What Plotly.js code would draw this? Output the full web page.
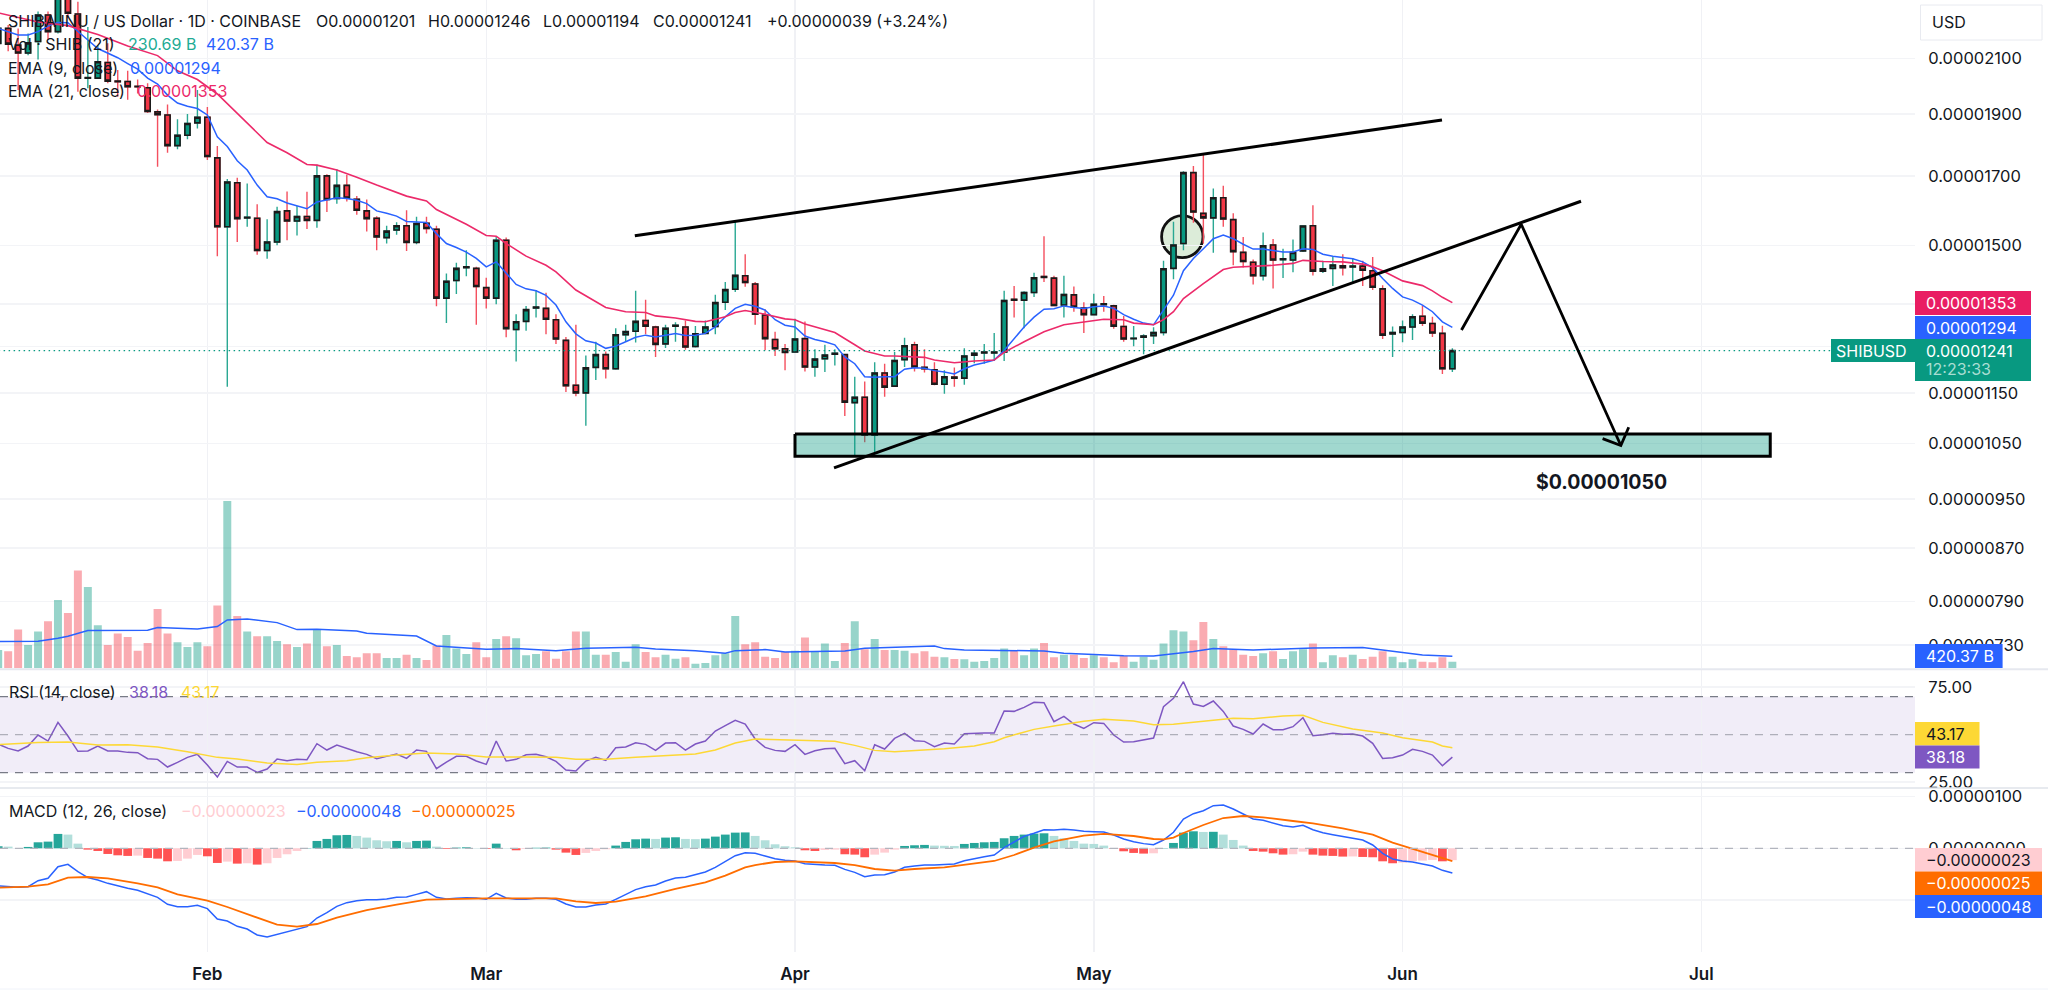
<!DOCTYPE html>
<html>
<head>
<meta charset="utf-8">
<script src="https://cdn.plot.ly/plotly-3.0.1.min.js"></script>
<style>html,body{margin:0;padding:0;background:#fff}#chart{width:2048px;height:991px}</style>
</head>
<body>
<div id="chart"></div>
<script>
// ---------- DATA (prices in units of 0.00000001 USD, volume in billions) ----------
const UNIT = 1e-8;
const firstDay = Date.UTC(2025, 0, 11);

const opens = [
 2158,2217,2151,2121,2165,2271,2204,2360,2275,2027,2027,2085,2016,2015,1997,1992,1908,1897,1795,1829,1870,
 1889,1756,1551,1679,1576,1575,1486,1509,1596,1567,1580,1569,1700,1632,1671,1630,1596,1575,1521,1542,1554,1508,1561,1544,1364,1408,1441,1439,
 1390,1364,1514,1289,1308,1340,1339,1312,1264,1166,1150,1204,1232,1201,1277,1285,1310,1295,1256,1297,1295,1250,1280,1296,1354,1386,1420,1399,1323,1266,1245,
 1238,1268,1205,1223,1233,1232,1130,1141,1066,1192,1164,1221,1254,1204,1199,1168,1183,1181,1231,1236,1236,1238,1361,1359,1378,1418,1414,1347,1372,1340,
 1324,1350,1345,1296,1268,1271,1275,1282,1439,1505,1710,1589,1576,1634,1571,1481,1455,1420,1501,1462,1461,1485,1554,1432,1439,1446,1443,1445,1433,1387,1279,
 1282,1295,1320,1303,1280,1201];
const highs = [
 2228,2231,2217,2197,2285,2285,2420,2400,2326,2223,2151,2158,2057,2054,2022,2008,1916,1933,1882,1900,1984,
 1924,1794,1690,1694,1677,1615,1572,1608,1653,1610,1652,1734,1705,1720,1703,1639,1629,1581,1554,1564,1598,1579,1579,1554,1426,1454,1487,1443,
 1415,1523,1521,1325,1345,1384,1377,1325,1272,1300,1230,1261,1239,1292,1300,1382,1360,1298,1300,1306,1310,1297,1310,1372,1404,1567,1476,1404,1337,1284,1256,
 1314,1308,1244,1254,1244,1233,1184,1174,1215,1212,1238,1270,1261,1244,1215,1198,1204,1246,1241,1256,1281,1382,1394,1381,1428,1525,1420,1420,1393,1354,
 1375,1369,1348,1321,1297,1278,1294,1459,1565,1714,1730,1765,1662,1670,1589,1523,1462,1535,1517,1491,1516,1553,1612,1459,1469,1476,1466,1459,1469,1396,1296,
 1310,1325,1346,1319,1298,1246];
const lows = [
 2150,2128,1984,2112,2096,2171,2197,2258,1978,1990,2024,2008,1960,1950,1972,1904,1728,1772,1783,1816,1851,
 1749,1471,1163,1509,1551,1475,1464,1500,1514,1527,1545,1548,1593,1617,1623,1585,1538,1487,1505,1529,1485,1503,1532,1344,1304,1374,1419,1300,
 1339,1349,1271,1217,1286,1317,1278,1256,1152,1143,1084,1177,1180,1199,1262,1259,1278,1227,1247,1261,1243,1248,1278,1278,1335,1379,1392,1300,1242,1229,1198,
 1236,1195,1184,1194,1208,1103,1027,1052,1031,1142,1163,1205,1195,1193,1166,1148,1163,1167,1213,1212,1218,1218,1317,1292,1367,1404,1344,1317,1331,1281,
 1323,1331,1291,1261,1251,1233,1256,1275,1411,1487,1562,1505,1480,1551,1447,1441,1398,1408,1388,1414,1429,1482,1421,1427,1394,1421,1404,1394,1384,1267,1227,
 1260,1265,1297,1272,1190,1194];
const closes = [
 2217,2155,2121,2160,2271,2204,2360,2278,2027,2029,2088,2016,2014,1996,1996,1909,1898,1795,1829,1868,1889,
 1760,1551,1681,1574,1578,1486,1509,1594,1567,1580,1569,1700,1629,1671,1633,1598,1574,1523,1539,1554,1508,1560,1546,1364,1406,1439,1443,1393,
 1364,1514,1291,1307,1336,1342,1313,1267,1165,1150,1203,1232,1201,1277,1284,1308,1297,1255,1292,1299,1249,1279,1295,1353,1385,1421,1403,1325,1268,1245,1237,
 1267,1205,1222,1231,1235,1131,1141,1066,1192,1162,1219,1252,1205,1201,1168,1184,1181,1229,1235,1238,1238,1358,1359,1378,1415,1416,1346,1373,1342,1324,
 1349,1348,1297,1267,1269,1274,1282,1438,1501,1710,1593,1576,1634,1573,1483,1457,1420,1499,1461,1464,1481,1553,1432,1438,1448,1441,1445,1434,1391,1276,1282,
 1295,1319,1304,1281,1201,1241];
const volumes = [
 642,595,1354,817,1284,1645,2392,1937,3419,2847,1505,817,1214,1097,618,887,2077,1214,910,747,910,
 770,2194,5858,1832,1284,1120,1120,957,840,747,864,1354,770,817,432,385,525,525,362,362,478,362,292,794,1167,689,502,910,
 385,1027,1120,1050,455,502,595,338,595,1284,1284,478,478,572,233,840,572,385,478,338,385,163,187,455,525,1832,840,910,408,362,572,
 618,1074,595,864,257,887,1645,665,1027,642,642,618,525,595,408,385,327,315,233,257,362,689,642,455,689,887,385,478,478,362,
 455,385,210,432,233,408,303,864,1330,1284,980,1622,1027,770,665,478,432,525,595,327,595,665,864,210,455,385,478,327,408,595,408,
 210,315,233,210,385,231];
const ema9 = [
 2217,2204,2191,2191,2204,2226,2241,2240,2204,2171,2138,2120,2103,2081,2060,2027,2005,1966,1938,1927,1919,
 1897,1824,1792,1747,1718,1672,1637,1631,1619,1610,1602,1622,1627,1634,1632,1627,1617,1596,1589,1581,1566,1564,1563,1532,1505,1494,1482,1465,
 1443,1456,1426,1398,1387,1382,1371,1347,1307,1279,1263,1258,1246,1251,1261,1271,1276,1272,1276,1280,1275,1276,1280,1295,1319,1339,1349,1344,1335,1312,1299,
 1295,1274,1266,1261,1254,1227,1212,1184,1183,1184,1184,1200,1203,1202,1197,1194,1190,1201,1209,1214,1220,1241,1269,1295,1318,1337,1338,1345,1341,1339,
 1343,1345,1339,1324,1313,1304,1300,1335,1371,1433,1465,1491,1518,1528,1518,1503,1490,1490,1487,1482,1482,1491,1489,1476,1471,1467,1464,1456,1441,1413,1388,
 1367,1359,1347,1331,1307,1294];
const ema21Days = ['01-11','01-15','01-18','01-21','01-24','01-27','01-29','01-31','02-02','02-03','02-05','02-07','02-09','02-11','02-12','02-14','02-16','02-18','02-21','02-23','02-24','02-27','03-01','03-02','03-03','03-05','03-07','03-08','03-10','03-12','03-13','03-15','03-17','03-18','03-20','03-22','03-23','03-25','03-26','03-27','03-29','03-31','04-01','04-02','04-05','04-07','04-08','04-10','04-11','04-14','04-15','04-17','04-19','04-21','04-22','04-24','04-26','04-28','04-30','05-02','05-04','05-05','05-07','05-08','05-09','05-10','05-12','05-14','05-15','05-17','05-19','05-21','05-22','05-24','05-26','05-28','05-29','05-30','06-01','06-03','06-04','06-05','06-06'];
const ema21 = [2280,2243,2228,2193,2148,2111,2054,2022,1970,1936,1868,1805,1772,1735,1733,1718,1696,1672,1639,1625,1600,1558,1527,1525,1505,1471,1447,1430,1384,1355,1341,1331,1329,1321,1316,1308,1307,1319,1329,1334,1325,1314,1312,1302,1282,1254,1240,1229,1229,1226,1220,1214,1218,1220,1237,1261,1284,1300,1307,1313,1312,1304,1300,1312,1331,1363,1400,1436,1442,1445,1447,1452,1460,1457,1456,1450,1443,1433,1407,1395,1382,1366,1353];
const volMaDays = ['01-11','01-15','01-17','01-18','01-20','01-26','01-27','01-31','02-02','02-03','02-05','02-08','02-10','02-12','02-16','02-17','02-22','02-24','03-01','03-04','03-08','03-11','03-16','03-18','03-22','03-25','03-26','03-29','03-31','04-06','04-08','04-15','04-16','04-18','04-26','04-28','05-04','05-07','05-11','05-13','05-17','05-23','05-28','05-31','06-03','06-06'];
const volMa = [934,945,1050,1120,1319,1330,1424,1377,1459,1692,1727,1599,1354,1365,1307,1225,1132,782,665,689,618,700,735,677,618,525,618,654,572,607,700,782,689,642,607,525,443,432,584,689,642,712,724,595,467,420.37];
const rsi = [
 45.09,42.81,41.40,44.03,49.82,46.67,56.49,49.30,41.23,41.40,44.03,41.40,41.40,40.70,40.53,37.37,37.02,32.98,35.44,38.07,39.65,
 34.03,27.72,35.96,32.98,32.98,30.17,31.93,37.19,36.31,37.02,36.84,45.26,41.93,44.56,42.63,41.05,39.65,37.37,38.6,39.82,37.54,41.93,41.23,32.10,35.61,38.6,38.6,36.14,
 34.38,46.67,36.14,37.02,39.47,39.65,38.42,35.96,31.40,30.88,36.14,38.07,36.49,43.16,43.51,45.79,44.91,41.75,45.61,45.79,41.93,45.09,46.67,51.93,54.74,57.54,55.61,47.72,43.33,41.75,41.23,
 44.74,39.65,41.58,42.63,42.81,34.74,36.31,31.05,44.74,42.46,48.07,50.7,46.84,46.49,43.68,45.61,45.09,50.53,50.88,50.88,50.88,62.46,62.28,64.39,67.02,66.84,56.84,59.65,55.61,53.33,
 56.32,55.96,49.82,46.14,46.32,47.19,48.25,64.74,69.12,77.9,66.14,64.91,67.72,62.28,54.56,52.81,50.35,55.61,52.63,52.63,54.21,58.95,49.47,50.0,50.7,50.18,50.35,49.3,45.44,37.54,37.89,
 39.3,42.28,41.23,39.3,33.68,38.18];
const rsiMaDays = ['01-11','01-15','01-18','01-21','01-24','01-27','01-30','02-02','02-04','02-07','02-10','02-12','02-15','02-17','02-20','02-23','02-26','03-01','03-05','03-08','03-10','03-13','03-16','03-19','03-22','03-24','03-26','03-28','03-31','04-01','04-04','04-05','04-07','04-09','04-11','04-13','04-16','04-19','04-21','04-22','04-25','04-27','04-30','05-02','05-05','05-07','05-09','05-12','05-15','05-17','05-20','05-22','05-24','05-27','05-30','06-01','06-04','06-05','06-06'];
const rsiMa = [44.74,45.96,46.14,44.56,44.74,43.51,41.05,38.07,37.19,35.09,34.38,35.44,36.31,37.89,39.3,40.35,39.82,38.24,38.24,38.07,37.02,37.02,38.07,38.95,39.82,41.93,45.61,47.72,47.19,47.37,46.67,46.49,44.38,41.75,41.05,41.58,42.63,44.03,46.32,48.42,52.81,54.56,57.02,58.07,57.19,55.26,55.44,57.02,58.6,58.42,59.82,60.18,56.49,52.98,50.88,48.42,46.14,44.03,43.17];
const macd = [
 -73,-74.3,-75.6,-74.3,-62.7,-58.2,-35.6,-31.1,-45.3,-56.9,-61.4,-67.9,-73,-77.5,-81.4,-88.5,-95,-108.5,-113,-113,-110.4,
 -116.9,-136.9,-140.8,-151.1,-156.3,-167.9,-171.8,-166.6,-162.7,-156.3,-151.8,-135,-124.6,-112.4,-105.3,-101.4,-99.5,-99.5,-98.2,-95,-94.3,-89.2,-84,-95,-98.2,-96.9,-95.6,-96.2,
 -98.8,-87.2,-96.2,-98.8,-98.8,-96.9,-96.9,-98.8,-107.9,-113.7,-113.7,-109.8,-107.9,-98.8,-89.8,-80.1,-74.3,-71.1,-63.3,-57.5,-56.2,-51,-45.9,-36.9,-25.3,-14.3,-8.5,-9.8,-14.9,-20.1,-23.3,
 -24.6,-29.8,-31.7,-32.4,-33,-40.8,-46.6,-55,-51.7,-51.1,-45.9,-36.9,-34.3,-32.4,-32.4,-31.7,-30.4,-24,-19.5,-16.2,-13,1.2,12.2,23.1,29,36,35.4,36.7,35.4,32.8,
 32.2,31.5,25.7,18,12.8,9,7,16,30.9,56.7,67,72.8,82.5,83.8,76,65.7,56.7,54.1,48.3,43.8,41.2,44.4,36,30.2,26.4,23.1,19.3,16,6.4,-9.8,-20.7,
 -24.6,-26.6,-30.4,-34.3,-42.7,-48];
const signalDays = ['01-11','01-14','01-16','01-18','01-20','01-22','01-25','01-27','01-29','01-31','02-01','02-03','02-06','02-08','02-10','02-12','02-14','02-17','02-20','02-23','03-01','03-04','03-08','03-10','03-12','03-14','03-17','03-20','03-23','03-25','03-27','03-28','03-30','04-01','04-05','04-07','04-09','04-11','04-13','04-16','04-18','04-21','04-23','04-25','04-27','04-30','05-02','05-05','05-07','05-08','05-09','05-10','05-12','05-14','05-16','05-18','05-21','05-23','05-26','05-29','05-31','06-02','06-04','06-06'];
const signal = [-76.3,-74.3,-69.8,-56.9,-55.6,-58.2,-67.9,-75.6,-89.2,-98.2,-101.4,-113.7,-135,-147.9,-151.8,-146.6,-134.3,-119.5,-109.2,-99.5,-96.9,-96.9,-96.9,-102.7,-105.9,-103.4,-93,-78.8,-65.9,-53,-36.9,-32.4,-26.6,-25.3,-28.5,-32.4,-40.1,-43.3,-40.1,-36.9,-32.4,-24.6,-13,1.2,13.5,24.4,27.7,23.8,18,17.3,20.6,29.6,45.1,58.6,62.5,59.9,52.8,48.3,38.6,26.4,10.9,-1.3,-13.6,-25];
const macdHist = [
 3.9,3.2,0.3,2.6,11.6,12.9,27.8,26.5,9,-2.6,-5.2,-11,-13.6,-14.8,-14.2,-18.7,-20,-25.2,-24.5,-20,-12.9,
 -15.5,-28.4,-25.8,-29.7,-29,-31.6,-29,-18.7,-11.6,-5.2,0.6,14.2,18.1,25.2,25.8,23.9,20.7,15.5,13.6,14.2,11.6,14.2,14.8,3.2,-1.3,1.3,1.9,0.6,
 -1.3,9,0.6,-3.9,-1.3,1,1.3,-2.6,-8.4,-12.9,-9,-5.2,-1.9,5.2,12.3,17.4,18.7,18.1,20.7,21.3,18.1,17.7,18.7,22.6,26.5,30.3,30.7,23.9,15.5,7.7,3.9,
 1.9,-3.9,-5.2,-3.2,-2.6,-11.6,-12.3,-17.4,-12.3,-8.4,-2.6,4.5,5.8,6.5,5.2,4.8,4.5,8.4,10.3,11.6,12.3,19.4,23.9,26.5,28.4,29,23.9,19.4,14.2,9,
 8.4,5.2,-1.3,-5.8,-9,-10.3,-9.7,0.6,10.3,30.3,32.9,31.6,31.9,26.5,16.1,5.2,-5.2,-6.5,-9.7,-12.3,-11.6,-6.5,-12.3,-14.2,-14.8,-16.1,-15.8,-16.8,-17.4,-25.2,-29,
 -27.8,-25.2,-23.9,-22.6,-25.2,-23];

// Hand-drawn overlays (date, price)
const upperTrendDays = ['2025-03-15 22:00','2025-06-04 23:00'];
const upperTrendPrices = [1526,1880];
const lowerTrendDays = ['2025-04-04 22:00','2025-06-18 22:00'];
const lowerTrendPrices = [1004.6,1624];
const projectionDays = ['2025-06-06 22:00','2025-06-12 22:00','2025-06-22 22:00'];
const projectionPrices = [1288,1558,1046];
const arrowHeadDays = ['2025-06-21 02:00','2025-06-22 22:00','2025-06-23 17:00'];
const arrowHeadPrices = [1059,1046,1081];
const zoneDays = ['2025-04-01','2025-07-07 22:00','2025-07-07 22:00','2025-04-01','2025-04-01'];
const zonePrices = [1068,1068,1026,1026,1068];
const priceTicks = [2100,1900,1700,1500,1350,1250,1150,1050,950,870,790,730];
const rsiTicks = [75,25];
const macdTicks = [100,0,-100];
const monthTicks = ['2025-02-01','2025-03-01','2025-04-01','2025-05-01','2025-06-01','2025-07-01'];
const monthLabels = ['Feb','Mar','Apr','May','Jun','Jul'];

// ---------- BUILD ----------
const days = opens.map((_, i) => new Date(firstDay + i * 864e5).toISOString().slice(0, 10));
const md = s => '2025-' + s;
const P = a => a.map(v => v * UNIT);
const TEAL = '#089981', RED = '#F23645';
const W = 2048, H = 991, PW = 1915, PH = 952;
const px = x => x / PW, py = y => (PH - y) / PH;

const bodyTop = opens.map((o, i) => Math.max(o, closes[i]));
const bodyBot = opens.map((o, i) => Math.min(o, closes[i]));
const up = closes.map((c, i) => c >= opens[i]);
let prevH = null;
const histColors = macdHist.map(h => {
  const rising = prevH === null || h > prevH;
  prevH = h;
  return h >= 0 ? (rising ? '#26A69A' : '#B2DFDB') : (rising ? '#FFCDD2' : '#FF5252');
});
const line = (x, y, yaxis, color, width, extra) => Object.assign({
  type: 'scatter', mode: 'lines', x, y, yaxis, xaxis: 'x',
  line: { color, width }, hoverinfo: 'skip', showlegend: false
}, extra || {});
const dayMs = 864e5;

const traces = [
  { type: 'bar', x: days, y: volumes, yaxis: 'y', xaxis: 'x', width: 0.8 * dayMs,
    marker: { color: up.map(u => u ? 'rgba(8,153,129,0.42)' : 'rgba(242,54,69,0.42)'), line: { width: 0 } },
    hoverinfo: 'skip', showlegend: false },
  line(volMaDays.map(md), volMa, 'y', '#2962FF', 1.5),
  { type: 'candlestick', x: days, open: P(opens), high: P(highs), low: P(lows), close: P(closes),
    yaxis: 'y2', xaxis: 'x', whiskerwidth: 0, hoverinfo: 'skip', showlegend: false,
    increasing: { line: { color: '#2aa893', width: 1.4 }, fillcolor: TEAL },
    decreasing: { line: { color: '#f4505f', width: 1.4 }, fillcolor: RED } },
  { type: 'candlestick', x: days, open: P(opens), high: P(bodyTop), low: P(bodyBot), close: P(closes),
    yaxis: 'y2', xaxis: 'x', whiskerwidth: 0, hoverinfo: 'skip', showlegend: false,
    increasing: { line: { color: '#1a1a1a', width: 1.6 }, fillcolor: TEAL },
    decreasing: { line: { color: '#1a1a1a', width: 1.6 }, fillcolor: RED } },
  line(days, P(ema9), 'y2', '#2962FF', 1.5),
  line(ema21Days.map(md), P(ema21), 'y2', '#EC2A6A', 1.6),
  line(['2025-01-01', '2025-07-14'], P([closes[closes.length - 1], closes[closes.length - 1]]), 'y2', TEAL, 1.4,
    { }),
  line(zoneDays, P(zonePrices), 'y2', '#000000', 3, { fill: 'toself', fillcolor: 'rgba(8,153,129,0.38)' }),
  line(upperTrendDays, P(upperTrendPrices), 'y2', '#000000', 3),
  line(lowerTrendDays, P(lowerTrendPrices), 'y2', '#000000', 3),
  line(projectionDays, P(projectionPrices), 'y2', '#000000', 2.8),
  line(arrowHeadDays, P(arrowHeadPrices), 'y2', '#000000', 2.8),
  line(days, rsi, 'y3', '#7E57C2', 1.5),
  line(rsiMaDays.map(md), rsiMa, 'y3', '#FDD835', 1.5),
  { type: 'bar', x: days, y: macdHist, yaxis: 'y4', xaxis: 'x', width: 0.88 * dayMs,
    marker: { color: histColors, line: { width: 0 } }, hoverinfo: 'skip', showlegend: false },
  line(days, macd, 'y4', '#2962FF', 1.5),
  line(signalDays.map(md), signal, 'y4', '#FF6D00', 1.8)
];
traces[6].line.dash = '1.5px,3.5px';

// text helpers
const FONT = 'Inter, "Noto Sans", sans-serif';
const DARK = '#131722';
const note = (x, y, text, color, size, weight, xanchor) => ({
  xref: 'paper', yref: 'paper', x: px(xanchor ? x : x - 1.8), y: py(y), text, showarrow: false,
  xanchor: xanchor || 'left', yanchor: 'middle', borderpad: 0,
  font: { family: FONT, size: size || 16, color: color || DARK, weight: weight || 400 }
});
const box = (x0, y0, x1, y1, fill) => ({
  type: 'rect', xref: 'paper', yref: 'paper', x0: px(x0), x1: px(x1), y0: py(y0), y1: py(y1),
  fillcolor: fill, line: { width: 0 }, layer: 'above'
});
const rule = (x0, y, x1, color, width) => ({
  type: 'line', xref: 'paper', yref: 'paper', x0: px(x0), x1: px(x1), y0: py(y), y1: py(y),
  line: { color, width }, layer: 'above'
});
const level = (v, color, width) => ({
  type: 'line', xref: 'paper', yref: 'y3', x0: 0, x1: 1, y0: v, y1: v,
  line: { color, width, dash: '8px,7px' }, layer: 'above'
});

const annotations = [
  note(9, 21, 'SHIBA INU / US Dollar · 1D · COINBASE'),
  note(317, 21, 'O0.00001201'), note(429, 21, 'H0.00001246'), note(544, 21, 'L0.00001194'),
  note(654, 21, 'C0.00001241'), note(768, 21, '+0.00000039 (+3.24%)'),
  note(9, 44.3, 'Vol · SHIB (21)'), note(129, 44.3, '230.69 B', '#22AB94'), note(207, 44.3, '420.37 B', '#2962FF'),
  note(9, 67.7, 'EMA (9, close)'), note(131, 67.7, '0.00001294', '#2962FF'),
  note(9, 90.7, 'EMA (21, close)'), note(138, 90.7, '0.00001353', '#EC2A6A'),
  note(9.6, 691.7, 'RSI (14, close)'), note(130, 691.7, '38.18', '#7E57C2'), note(182, 691.7, '43.17', '#FDD835'),
  note(9.6, 811, 'MACD (12, 26, close)'), note(182, 811, '−0.00000023', '#FFCDD2'),
  note(296.5, 811, '−0.00000048', '#2962FF'), note(412, 811, '−0.00000025', '#FF6D00'),
  note(1601, 481.7, '$0.00001050', '#131722', 19.5, 700, 'center'),
  note(1933, 22, 'USD'),
  note(1927, 303, '0.00001353', '#FFFFFF'),
  note(1927, 327.5, '0.00001294', '#FFFFFF'),
  note(1927, 350.5, '0.00001241', '#FFFFFF'),
  note(1927, 369.5, '12:23:33', '#A9DED3'),
  note(1837, 350.5, 'SHIBUSD', '#FFFFFF'),
  note(1927, 656, '420.37 B', '#FFFFFF'),
  note(1927, 733.7, '43.17', '#131722'),
  note(1927, 757, '38.18', '#FFFFFF'),
  note(1927, 860, '−0.00000023', '#131722'),
  note(1927, 883, '−0.00000025', '#FFFFFF'),
  note(1927, 906.5, '−0.00000048', '#FFFFFF')
];

const shapes = [
  // circled candle highlight (behind the candles)
  { type: 'circle', xref: 'paper', yref: 'paper', x0: px(1161.6), x1: px(1203), y0: py(215.7), y1: py(257.7),
    fillcolor: '#DCECD9', line: { color: '#111111', width: 2.8 }, layer: 'below' },
  // RSI band
  { type: 'rect', xref: 'paper', yref: 'y3', x0: 0, x1: 1, y0: 30, y1: 70,
    fillcolor: 'rgba(126,87,194,0.11)', line: { width: 0 }, layer: 'below' },
  level(70, '#787B86', 1.2), level(50, 'rgba(120,123,134,0.55)', 1.2), level(30, '#787B86', 1.2),
  { type: 'line', xref: 'paper', yref: 'y4', x0: 0, x1: 1, y0: 0, y1: 0,
    line: { color: '#B2B5BE', width: 1.2, dash: '8px,7px' }, layer: 'above' },
  rule(0, 669.3, W, '#E6E8EF', 2),
  rule(0, 788, W, '#DFE3EA', 1.5),
  rule(0, 989, W, '#F0F3FA', 1),
  // USD chip
  { type: 'rect', xref: 'paper', yref: 'paper', x0: px(1920.5), x1: px(2042), y0: py(5), y1: py(40),
    fillcolor: '#FFFFFF', line: { color: '#E8EAF0', width: 1 }, layer: 'above' },
  // value tags
  box(1915, 291, 2031, 315, '#E91E63'),
  box(1915, 316, 2031, 339, '#2962FF'),
  box(1915, 339, 2031, 381, TEAL),
  box(1831, 339, 1915, 362, TEAL),
  box(1915, 644, 2002.6, 668, '#2962FF'),
  box(1915, 722, 1979.5, 745.5, '#FDD835'),
  box(1915, 745.5, 1979.5, 768.5, '#7E57C2'),
  box(1915, 848, 2042, 871.5, '#FFCDD2'),
  box(1915, 871.5, 2042, 895, '#FF6D00'),
  box(1915, 895, 2042, 918, '#2962FF')
];

const GRID = '#F3F4F7';
const rightAxis = {
  side: 'right', anchor: 'x', showline: false, zeroline: false, showgrid: true, gridcolor: GRID, gridwidth: 1.5,
  ticks: 'outside', ticklen: 9, tickcolor: 'rgba(0,0,0,0)', tickmode: 'array',
  tickfont: { family: FONT, size: 16.5, color: DARK }
};
const priceTop = 2333.3, priceBottom = 700.3;
const layout = {
  width: W, height: H, autosize: false,
  margin: { l: 0, r: W - PW, t: 0, b: H - PH, pad: 0 },
  paper_bgcolor: '#FFFFFF', plot_bgcolor: '#FFFFFF',
  showlegend: false, barmode: 'overlay', boxmode: 'overlay', boxgap: 0.26,
  dragmode: false, hovermode: false,
  font: { family: FONT, color: DARK },
  xaxis: {
    type: 'date', range: ['2025-01-11 04:19', '2025-07-22 10:48'], anchor: 'y4',
    domain: [0, 1], rangeslider: { visible: false }, showline: false, zeroline: false,
    showgrid: true, gridcolor: '#F0F1F5', gridwidth: 1.5, tickmode: 'array',
    tickvals: monthTicks, ticktext: monthLabels, ticks: 'outside', ticklen: 7, tickcolor: 'rgba(0,0,0,0)',
    tickfont: { family: FONT, size: 17, color: DARK, weight: 600 }, tickangle: 0
  },
  yaxis: {
    domain: [py(668.3), 1], range: [0, 23390], visible: false, showgrid: false, zeroline: false, fixedrange: true
  },
  yaxis2: Object.assign({}, rightAxis, {
    overlaying: 'y', type: 'log', range: [Math.log10(priceBottom * UNIT), Math.log10(priceTop * UNIT)],
    tickvals: P(priceTicks), ticktext: priceTicks.map(v => (v * UNIT).toFixed(8))
  }),
  yaxis3: Object.assign({}, rightAxis, {
    domain: [py(788), py(670)], range: [21.95, 84.05],
    tickvals: rsiTicks, ticktext: rsiTicks.map(v => v.toFixed(2))
  }),
  yaxis4: Object.assign({}, rightAxis, {
    domain: [0, py(788)], range: [-200.8, 116.7],
    tickvals: macdTicks, ticktext: macdTicks.map(v => (v * UNIT).toFixed(8).replace('-', '−'))
  }),
  annotations, shapes
};
Plotly.newPlot('chart', traces, layout, { displayModeBar: false, staticPlot: true, responsive: false });
</script>
</body>
</html>
